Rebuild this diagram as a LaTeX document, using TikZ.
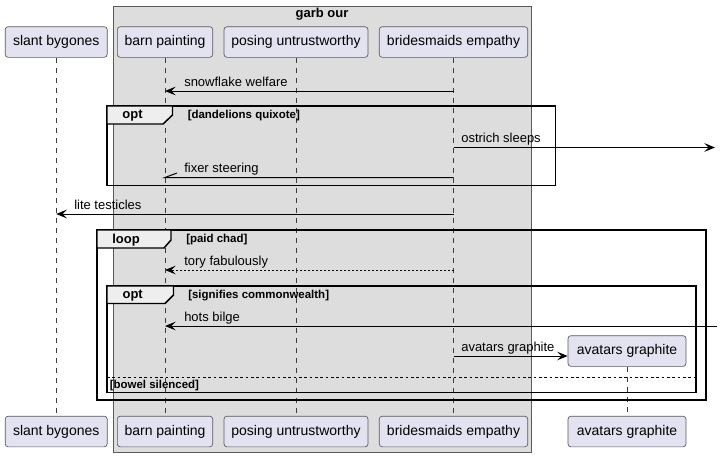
\documentclass[tikz,border=0pt]{standalone}
\usepackage{fontspec}
\setmainfont{Liberation Sans}
\usetikzlibrary{arrows.meta}
\definecolor{partfill}{RGB}{226,226,240}
\definecolor{partline}{RGB}{90,90,90}
\definecolor{boxfill}{RGB}{221,221,221}
\definecolor{tabfill}{RGB}{238,238,238}
\definecolor{lifeline}{RGB}{60,60,60}
\newcommand{\partfont}{\fontsize{10.5pt}{12pt}\selectfont}
\newcommand{\msgfont}{\fontsize{9.75pt}{11pt}\selectfont}
\newcommand{\condfont}{\fontsize{8.6pt}{10pt}\selectfont\bfseries}
\newcommand{\tabfont}{\fontsize{9.75pt}{11pt}\selectfont\bfseries}
\begin{document}
\begin{tikzpicture}[x=0.75pt,y=0.75pt,yscale=-1,xscale=1,
  partbox/.style={draw=partline,fill=partfill,line width=0.5pt,rounded corners=2.2pt,minimum height=23pt,inner sep=0pt,font=\partfont},
  life/.style={draw=lifeline,line width=0.5pt,dash pattern=on 3.75pt off 3.75pt},
  msg/.style={line width=0.75pt,-{Stealth[length=8pt,width=6.5pt,inset=3.2pt]}},
  frame/.style={line width=1.1pt},
  tabshape/.style={line width=1.1pt,fill=tabfill}]
\path (0,0) rectangle (720,457);
%Shape: Rectangle [id:garb]
\draw [draw=partline,fill=boxfill,line width=0.5pt] (113,6) rectangle (531,452);
% Text Node
\draw (322,14) node (garbTitle) [inner sep=0.75pt] [font=\tabfont] {garb our};
%Participants (top)
\node [partbox,minimum width=76.5pt] (slantT) at (56.2,42) {slant bygones};
\node [partbox,minimum width=71.5pt] (barnT) at (165,42) {barn painting};
\node [partbox,minimum width=108pt] (posingT) at (296,42) {posing untrustworthy};
\node [partbox,minimum width=111.3pt] (bridesT) at (453.5,42) {bridesmaids empathy};
%Participants (bottom)
\node [partbox,minimum width=76.5pt] (slantB) at (56.2,431.5) {slant bygones};
\node [partbox,minimum width=71.5pt] (barnB) at (165,431.5) {barn painting};
\node [partbox,minimum width=108pt] (posingB) at (296,431.5) {posing untrustworthy};
\node [partbox,minimum width=111.3pt] (bridesB) at (453.5,431.5) {bridesmaids empathy};
\node [partbox,minimum width=88.5pt] (avatarsB) at (627,431.5) {avatars graphite};
%Lifelines
\draw [life] (slantT.south) -- (slantB.north);
\draw [life] (barnT.south) -- (barnB.north);
\draw [life] (posingT.south) -- (posingB.north);
\draw [life] (bridesT.south) -- (bridesB.north);
%Created participant
\node [partbox,minimum width=88.5pt] (avatarsT) at (627,351) {avatars graphite};
\draw [life] (avatarsT.south) -- (avatarsB.north);
%Message ends
\coordinate (snowS) at (453.5,91);
\coordinate (snowT) at (165,91);
\coordinate (ostrS) at (453.5,147.5);
\coordinate (ostrT) at (715,147.5);
\coordinate (fixS) at (453.5,177.5);
\coordinate (fixT) at (165,177.5);
\coordinate (fixH) at (177,173);
\coordinate (liteS) at (453.5,214);
\coordinate (liteT) at (56.2,214);
\coordinate (toryS) at (453.5,270);
\coordinate (toryT) at (165,270);
\coordinate (hotsS) at (717,326);
\coordinate (hotsT) at (165,326);
\coordinate (avS) at (453.5,356);
%Frame: opt [id:opt1]
\draw [frame] (107,106) rectangle (555.5,185.5);
\draw [tabshape] (107,106) -- (172.5,106) -- (172.5,115) -- (163,124) -- (107,124) -- cycle;
\draw (132.5,116) node (opt1Tab) [inner sep=0.75pt] [font=\tabfont] {opt};
\draw (186.5,115.5) node (opt1Cond) [anchor=west][inner sep=0.75pt] [font=\condfont] {[dandelions quixote]};
%Frame: loop [id:loop1]
\draw [frame] (97,230) rectangle (706,400);
\draw [tabshape] (97,230) -- (171,230) -- (171,240) -- (164,248) -- (97,248) -- cycle;
\draw (126,240) node (loopTab) [inner sep=0.75pt] [font=\tabfont] {loop};
\draw (185,239.5) node (loopCond) [anchor=west][inner sep=0.75pt] [font=\condfont] {[paid chad]};
%Frame: opt [id:opt2]
\draw [frame] (107,286) rectangle (696,392.5);
\draw [tabshape] (107,286) -- (173.5,286) -- (173.5,295) -- (165,303.5) -- (107,303.5) -- cycle;
\draw (132.7,296) node (opt2Tab) [inner sep=0.75pt] [font=\tabfont] {opt};
\draw (187,295.5) node (opt2Cond) [anchor=west][inner sep=0.75pt] [font=\condfont] {[signifies commonwealth]};
\draw [line width=0.6pt,dash pattern=on 2pt off 2pt] (107,377) -- (696,377);
\draw (108.5,385.5) node (elseCond) [anchor=west][inner sep=0.75pt] [font=\condfont] {[bowel silenced]};
%Straight Lines (messages)
\draw [msg] (snowS) -- (snowT);
\draw (183,86) node (snowLbl) [anchor=base west][inner sep=0.75pt] [font=\msgfont] {snowflake welfare};
\draw [msg] (ostrS) -- (ostrT);
\draw (460,142.5) node (ostrLbl) [anchor=base west][inner sep=0.75pt] [font=\msgfont] {ostrich sleeps};
\draw [line width=0.75pt] (fixS) -- (fixT) -- (fixH);
\draw (183,172.5) node (fixLbl) [anchor=base west][inner sep=0.75pt] [font=\msgfont] {fixer steering};
\draw [msg] (liteS) -- (liteT);
\draw (73,209) node (liteLbl) [anchor=base west][inner sep=0.75pt] [font=\msgfont] {lite testicles};
\draw [msg,dash pattern=on 1.5pt off 1.5pt] (toryS) -- (toryT);
\draw (183,265) node (toryLbl) [anchor=base west][inner sep=0.75pt] [font=\msgfont] {tory fabulously};
\draw [msg] (hotsS) -- (hotsT);
\draw (183,321) node (hotsLbl) [anchor=base west][inner sep=0.75pt] [font=\msgfont] {hots bilge};
\draw [msg] (avS) -- (avatarsT.west |- avS);
\draw (460,351) node (avLbl) [anchor=base west][inner sep=0.75pt] [font=\msgfont] {avatars graphite};
\end{tikzpicture}
\end{document}
